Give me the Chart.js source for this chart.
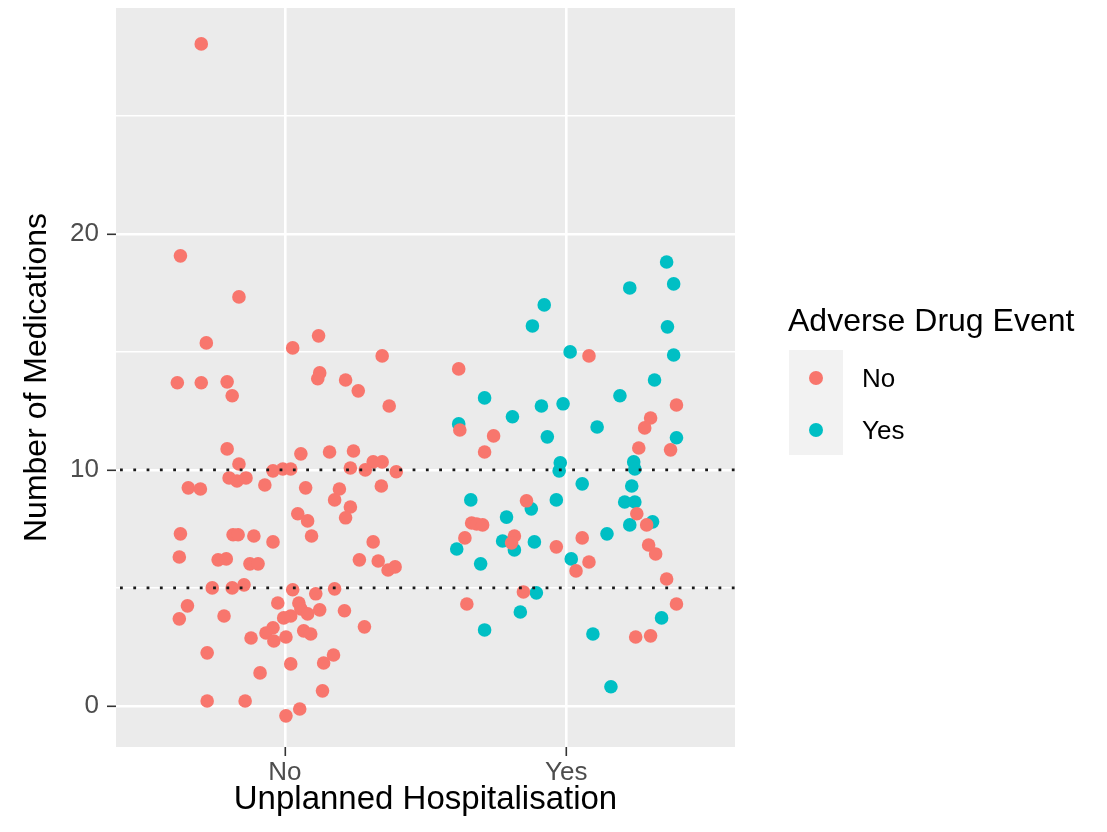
<!DOCTYPE html>
<html>
<head>
<meta charset="utf-8">
<script src="https://cdn.jsdelivr.net/npm/chart.js@4"></script>
<style>
  html, body { margin: 0; padding: 0; background: #fff; }
  #wrap { position: relative; width: 1107px; height: 832px; font-family: "Liberation Sans", Arial, sans-serif; }
  #legend { position: absolute; left: 0; top: 0; }
  .lg-title { position: absolute; left: 788px; top: 304px; font-size: 32px; line-height: 32px; color: #000; white-space: nowrap; }
  .lg-keys { position: absolute; left: 789px; top: 350px; width: 54px; height: 105px; background: #f2f2f2; }
  .lg-dot { position: absolute; width: 14px; height: 14px; border-radius: 50%; }
  .lg-label { position: absolute; left: 862px; font-size: 26px; line-height: 26px; color: #000; white-space: nowrap; }
</style>
</head>
<body>
<div id="wrap">
  <canvas id="medChart"></canvas>
  <div id="legend"></div>
</div>
<script>
// x categories (unplanned hospitalisation) and colour groups (adverse drug event)
const hospCategories = ['No', 'Yes'];
const adeGroups = ['No', 'Yes'];
const adeColours = ['#F8766D', '#00BFC4'];
const yTicks = [0, 5, 10, 15, 20, 25];
const yLabelled = [0, 10, 20];
const cutoffs = [5, 10];

// jittered points [x position, number of medications], x: 1 = No, 2 = Yes
const adeNoPoints = [
  [0.703, 28.05], [0.629, 19.07], [0.837, 17.33], [0.721, 15.38], [1.028, 15.17],
  [1.120, 15.68], [1.346, 14.83], [0.618, 13.69], [0.703, 13.69], [0.795, 13.73],
  [0.813, 13.14], [1.124, 14.11], [1.117, 13.86], [1.216, 13.81], [1.261, 13.35],
  [1.371, 12.71], [0.795, 10.89], [0.837, 10.25], [1.057, 10.68], [1.159, 10.76],
  [1.244, 10.80], [1.314, 10.34], [1.346, 10.34], [1.233, 10.08], [1.286, 10.00],
  [1.396, 9.92], [0.958, 9.96], [0.993, 10.04], [1.021, 10.04], [0.802, 9.66],
  [0.830, 9.53], [0.862, 9.66], [0.929, 9.36], [0.657, 9.24], [0.700, 9.19],
  [1.074, 9.24], [1.194, 9.19], [1.343, 9.32], [1.177, 8.73], [1.233, 8.43],
  [1.216, 7.97], [1.046, 8.14], [1.081, 7.84], [1.095, 7.20], [0.629, 7.29],
  [0.816, 7.25], [0.834, 7.25], [0.890, 7.20], [0.958, 6.95], [1.314, 6.95],
  [0.625, 6.31], [0.763, 6.19], [0.792, 6.23], [0.876, 6.02], [0.905, 6.02],
  [1.265, 6.19], [1.332, 6.14], [1.367, 5.76], [1.392, 5.89], [0.742, 5.00],
  [0.813, 5.00], [0.855, 5.13], [1.028, 4.92], [1.110, 4.75], [1.177, 4.96],
  [0.654, 4.24], [0.625, 3.69], [0.784, 3.81], [0.975, 4.36], [1.050, 4.36],
  [1.057, 4.11], [1.021, 3.81], [0.996, 3.73], [1.081, 3.90], [1.124, 4.07],
  [1.212, 4.03], [0.958, 3.31], [0.933, 3.09], [0.961, 2.75], [1.004, 2.92],
  [1.067, 3.18], [1.092, 3.05], [0.880, 2.88], [1.283, 3.35], [0.724, 2.25],
  [1.021, 1.78], [1.138, 1.82], [1.173, 2.16], [0.912, 1.40], [1.134, 0.64],
  [0.724, 0.21], [0.859, 0.21], [1.053, -0.13], [1.004, -0.42],
  [1.618, 14.28], [2.081, 14.83], [1.622, 11.69], [1.742, 11.44], [1.710, 10.76],
  [2.392, 12.75], [2.300, 12.20], [2.279, 11.78], [2.258, 10.93], [2.371, 10.85],
  [1.859, 8.69], [2.251, 8.14], [2.286, 7.67], [1.664, 7.75], [1.682, 7.71],
  [1.703, 7.67], [1.640, 7.12], [1.816, 7.20], [1.806, 6.91], [1.965, 6.74],
  [2.057, 7.12], [2.081, 6.10], [2.035, 5.72], [2.293, 6.82], [2.318, 6.44],
  [2.357, 5.38], [1.848, 4.83], [1.647, 4.32], [2.392, 4.32], [2.247, 2.92],
  [2.300, 2.97]
];

const adeYesPoints = [
  [2.357, 18.81], [2.382, 17.88], [2.226, 17.71], [1.922, 16.99], [1.880, 16.10],
  [2.360, 16.06], [2.014, 15.00], [2.382, 14.87], [2.314, 13.81], [1.710, 13.05],
  [2.191, 13.14], [1.912, 12.71], [1.989, 12.80], [1.809, 12.25], [1.618, 11.95],
  [2.110, 11.82], [1.933, 11.40], [2.392, 11.36], [1.979, 10.30], [1.975, 9.96],
  [2.240, 10.34], [2.244, 10.04], [2.057, 9.41], [2.233, 9.32], [1.661, 8.73],
  [1.876, 8.35], [1.965, 8.73], [2.208, 8.64], [2.244, 8.64], [2.226, 7.67],
  [2.307, 7.80], [1.788, 8.00], [1.611, 6.65], [1.696, 6.02], [1.774, 6.99],
  [1.816, 6.61], [1.887, 6.95], [2.145, 7.29], [2.018, 6.23], [1.894, 4.79],
  [1.837, 3.98], [1.710, 3.22], [2.095, 3.05], [2.339, 3.73], [2.159, 0.81]
];

(function () {
  const toXY = pts => pts.map(p => ({ x: p[0], y: p[1] }));

  const panelBg = {
    id: 'panelBg',
    beforeDraw(chart) {
      const { ctx, chartArea: a } = chart;
      ctx.save();
      ctx.fillStyle = '#EBEBEB';
      ctx.fillRect(a.left, a.top, a.right - a.left, a.bottom - a.top);
      ctx.restore();
    }
  };

  // dotted cut-off lines, drawn above the points
  const cutoffLines = {
    id: 'cutoffLines',
    afterDatasetsDraw(chart) {
      const { ctx, chartArea: a } = chart;
      const y = chart.scales.y;
      ctx.save();
      ctx.strokeStyle = '#1a1a1a';
      ctx.lineWidth = 2.8;
      ctx.setLineDash([2.8, 10.5]);
      cutoffs.forEach(v => {
        const py = y.getPixelForValue(v);
        ctx.beginPath();
        ctx.moveTo(a.left + 4, py);
        ctx.lineTo(a.right, py);
        ctx.stroke();
      });
      ctx.restore();
    }
  };

  const tickFont = { family: '"Liberation Sans", Arial, sans-serif', size: 26, lineHeight: 1 };
  const titleFont = { family: '"Liberation Sans", Arial, sans-serif', size: 33, lineHeight: 1 };

  new Chart(document.getElementById('medChart'), {
    type: 'scatter',
    data: {
      datasets: adeGroups.map((g, i) => ({
        label: g,
        data: toXY(i === 0 ? adeNoPoints : adeYesPoints),
        backgroundColor: adeColours[i],
        borderWidth: 0,
        pointRadius: 6.8,
        pointHoverRadius: 6.8
      }))
    },
    options: {
      responsive: true,
      maintainAspectRatio: false,
      animation: false,
      events: [],
      layout: { padding: { top: 8, right: 372, left: 0, bottom: 0 } },
      scales: {
        x: {
          type: 'linear',
          min: 0.4,
          max: 2.6,
          afterBuildTicks(axis) {
            axis.ticks = hospCategories.map((c, i) => ({ value: i + 1 }));
          },
          afterFit(axis) {
            axis.height = 85;
            axis.paddingLeft = 0;
            axis.paddingRight = 0;
          },
          border: { display: false },
          grid: { color: '#ffffff', lineWidth: 2.6, tickColor: '#333333', tickWidth: 1.6, tickLength: 9 },
          ticks: {
            autoSkip: false,
            padding: 4,
            color: '#4D4D4D',
            font: tickFont,
            callback: v => hospCategories[Math.round(v) - 1] || ''
          },
          title: {
            display: true,
            text: 'Unplanned Hospitalisation',
            color: '#000',
            font: titleFont,
            padding: { top: 0, bottom: 16 }
          }
        },
        y: {
          min: -1.74,
          max: 29.57,
          afterBuildTicks(axis) {
            axis.ticks = yTicks.map(v => ({ value: v }));
          },
          afterFit(axis) {
            axis.width = 116;
            axis.paddingTop = 0;
            axis.paddingBottom = 0;
          },
          border: { display: false },
          grid: {
            color: '#ffffff',
            lineWidth: ctx => (ctx.tick && yLabelled.includes(ctx.tick.value) ? 2.6 : 1.5),
            tickColor: ctx => (ctx.tick && yLabelled.includes(ctx.tick.value) ? '#333333' : 'rgba(0,0,0,0)'),
            tickWidth: 1.6,
            tickLength: 9
          },
          ticks: {
            autoSkip: false,
            padding: 8,
            color: '#4D4D4D',
            font: tickFont,
            callback: v => (yLabelled.includes(v) ? String(v) : '')
          },
          title: {
            display: true,
            text: 'Number of Medications',
            color: '#000',
            font: { family: '"Liberation Sans", Arial, sans-serif', size: 32, lineHeight: 1 },
            padding: { top: 21, bottom: 0 }
          }
        }
      },
      plugins: {
        legend: { display: false },
        tooltip: { enabled: false }
      }
    },
    plugins: [panelBg, cutoffLines]
  });

  // legend for the colour groups
  const legend = document.getElementById('legend');
  let html = '<div class="lg-title">Adverse Drug Event</div><div class="lg-keys"></div>';
  adeGroups.forEach((g, i) => {
    const cy = 378 + i * 52;
    html += `<div class="lg-dot" style="left:${816 - 7}px;top:${cy - 7}px;background:${adeColours[i]}"></div>`;
    html += `<div class="lg-label" style="top:${cy - 13}px">${g}</div>`;
  });
  legend.innerHTML = html;
})();
</script>
</body>
</html>
